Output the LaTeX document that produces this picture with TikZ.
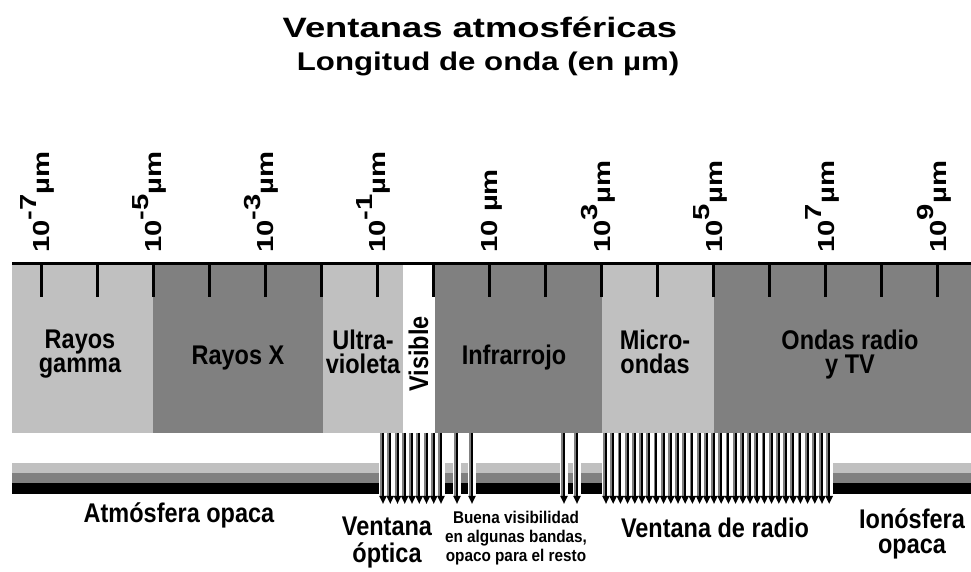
\documentclass[tikz,border=0pt]{standalone}
\usepackage{fontspec}
\setmainfont{Liberation Sans}
\newfontfamily\fTitulo[FakeStretch=1.3]{Liberation Sans}
\newfontfamily\fSub[FakeStretch=1.22]{Liberation Sans}
\newfontfamily\fEje[FakeStretch=1.26]{Liberation Sans}
\newfontfamily\fBanda[FakeStretch=0.87]{Liberation Sans}
\newfontfamily\fChica[FakeStretch=0.9]{Liberation Sans}
\usetikzlibrary{arrows.meta}
\definecolor{claro}{HTML}{C0C0C0}
\definecolor{oscuro}{HTML}{808080}
\newcommand{\pot}[1]{\raisebox{6.5pt}{#1}}
\newcommand{\rayo}[1]{%
  \fill[white] ({#1-4},462) rectangle ({#1+4},495);
  \draw[oscuro, line width=1pt] ({#1-1.9},433) -- ({#1-1.9},497);
  \draw[rayo] (#1,433) -- (#1,504);}

\begin{document}
\begin{tikzpicture}[x=0.5pt, y=-0.5pt,
  banda/.style={font=\fBanda\bfseries\fontsize{13.5}{12}\selectfont, align=center, inner sep=0pt},
  eje/.style={font=\fEje\bfseries\fontsize{11.6}{12}\selectfont, rotate=90, anchor=base west, inner sep=0pt},
  chica/.style={font=\fChica\bfseries\fontsize{8.5}{9.5}\selectfont, align=center, inner sep=0pt},
  marca/.style={line width=1.5pt},
  rayo/.style={-{Triangle[length=4pt,width=3.5pt]}, line width=1pt}]
  \useasboundingbox (0,0) rectangle (971,572);
  \node[font=\fTitulo\bfseries\fontsize{14}{14}\selectfont, anchor=base] (titulo) at (480,38) {Ventanas atmosféricas};
  \node[font=\fSub\bfseries\fontsize{12.8}{13}\selectfont, anchor=base] (sub) at (488,71) {Longitud de onda (en µm)};
  \fill[claro] (12,264) rectangle (153,433);
  \fill[oscuro] (153,264) rectangle (323,433);
  \fill[claro] (323,264) rectangle (403,433);
  \fill[oscuro] (435,264) rectangle (602,433);
  \fill[claro] (602,264) rectangle (714,433);
  \fill[oscuro] (714,264) rectangle (971,433);
  \draw[marca] (12,264) -- (971,264);
  \foreach \i in {0,...,16} \draw[marca] ({41+56.06*\i},264) -- ++(0,33);
  \foreach \e [count=\i from 0] in {{10\pot{-7}µm},{10\pot{-5}µm},{10\pot{-3}µm},{10\pot{-1}µm},{10\ µm},{10\pot{3}µm},{10\pot{5}µm},{10\pot{7}µm},{10\pot{9}µm}}
    \node[eje] (e\i) at ({49.5+112.12*\i},253) {\e};
  \node[banda, anchor=north] (gamma) at (80,330) {Rayos\\gamma};
  \node[banda, anchor=base] (rx) at (238,365) {Rayos X};
  \node[banda, anchor=north] (uv) at (363,330) {Ultra-\\violeta};
  \node[banda, rotate=90, anchor=base] (vis) at (428,354) {Visible};
  \node[banda, anchor=base] (ir) at (514,365) {Infrarrojo};
  \node[banda, anchor=north] (micro) at (655,330) {Micro-\\ondas};
  \node[banda, anchor=north] (radio) at (850,330) {Ondas radio\\y TV};
  \fill[claro] (12,463) rectangle (971,473);
  \fill[oscuro] (12,473) rectangle (971,483);
  \fill (12,483) rectangle (971,494);
  \foreach \i in {0,...,8} {\pgfmathsetmacro\x{383+7.25*\i}\rayo{\x}}
  \foreach \x in {457,472,564,577} {\rayo{\x}}
  \foreach \i in {0,...,31} {\pgfmathsetmacro\x{606+7.2*\i}\rayo{\x}}
  \node[banda, anchor=base] (atm) at (179,523) {Atmósfera opaca};
  \node[banda, anchor=north] (optica) at (387,517) {Ventana\\[1.5pt]óptica};
  \node[chica, anchor=north] (buena) at (516,511) {Buena visibilidad\\en algunas bandas,\\opaco para el resto};
  \node[banda, anchor=base] (vradio) at (715,538) {Ventana de radio};
  \node[banda, anchor=north] (iono) at (912,508) {Ionósfera\\[0.5pt]opaca};
\end{tikzpicture}
\end{document}
